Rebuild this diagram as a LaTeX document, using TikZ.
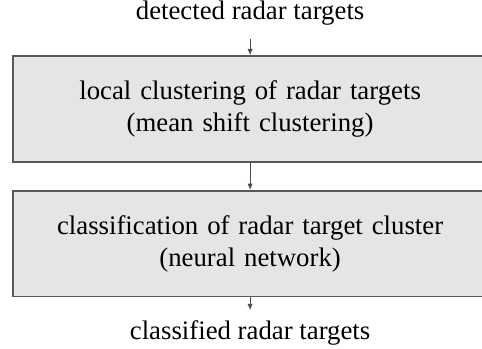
\documentclass[tikz,border=0pt]{standalone}
\usepackage{fontspec}
\setmainfont{Liberation Serif}
\usetikzlibrary{arrows.meta,positioning}

\begin{document}
\begin{tikzpicture}[
    block/.style={rectangle, draw=black!65, line width=0.6pt, fill=gray!20, text width=170pt, align=center, minimum width=177pt, minimum height=39.5pt},
    io/.style={text height=7pt, text depth=2pt, inner xsep=2pt},
    line/.style={draw=black!70, line width=0.45pt, -{Latex[length=2.4pt,width=2pt]}}
]
\path [use as bounding box, clip] (0,0) rectangle (180pt,-130pt);

\node [io, inner ysep=5pt, anchor=base] (input) at (93.4pt,-7.3pt) {detected radar targets};
\node [block, below=6.2pt of input] (clustering) {local clustering of radar targets\\(mean shift clustering)};
\node [block, below=10.2pt of clustering] (classify) {classification of radar target cluster\\(neural network)};
\node [io, inner ysep=3.6pt, below=4.8pt of classify] (output) {classified radar targets};

\path [line] (input) -- (clustering);
\path [line] (clustering) -- (classify);
\path [line] (classify) -- (output);

\end{tikzpicture}
\end{document}
